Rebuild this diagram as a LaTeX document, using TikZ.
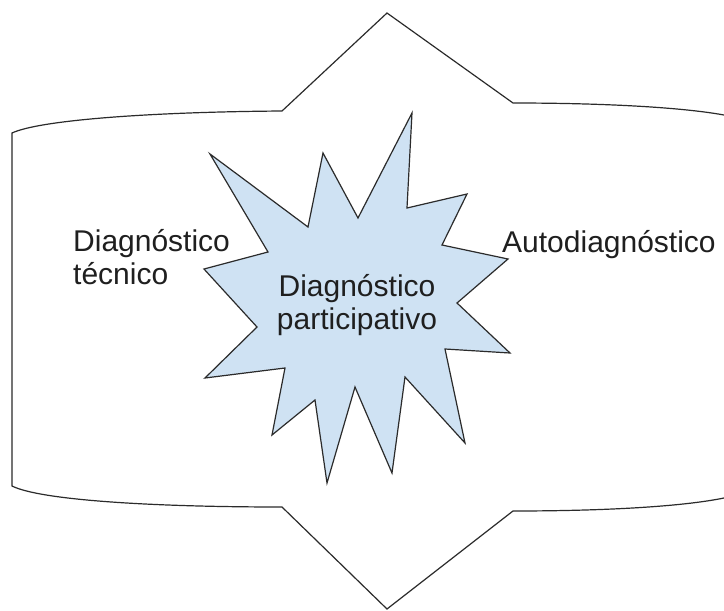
\documentclass[tikz,border=0pt]{standalone}
\usepackage{fontspec}
\setmainfont{Liberation Sans}
\definecolor{starfill}{HTML}{CFE2F3}
\definecolor{inkline}{HTML}{2B2B2B}
\definecolor{inktext}{HTML}{1F1F1F}
\tikzset{
  outline/.style={draw=inkline, line width=1.2pt, line join=miter},
  starshape/.style={draw=inkline, fill=starfill, line width=1.2pt, line join=miter},
  label/.style={inner sep=0pt, text=inktext, font=\fontsize{30}{33}\selectfont}
}
\begin{document}
\begin{tikzpicture}[x=1pt,y=-1pt]
\useasboundingbox (0,0) rectangle (724,611);
\fill[white] (0,0) rectangle (724,611);
\begin{scope}
\clip (0,0) rectangle (724,611);
\draw[outline] (12,133) .. controls (40,120) and (150,112) .. (282,111)
  -- (387,13) -- (513,103)
  .. controls (600,103) and (680,107) .. (724,115)
  -- (770,125) -- (770,490) -- (724,498)
  .. controls (680,507) and (600,511) .. (513,511)
  -- (387,609) -- (282,507)
  .. controls (150,507) and (40,500) .. (12,486) -- cycle;
\end{scope}
\draw[starshape] (210,154) -- (308,227) -- (323,153) -- (358,218) -- (412,113)
  -- (407,208) -- (467,194) -- (442,245) -- (508,259) -- (457,303)
  -- (510,353) -- (445,349) -- (465,443) -- (405,377) -- (392,473)
  -- (355,387) -- (327,483) -- (315,400) -- (272,435) -- (285,368)
  -- (205,378) -- (257,327) -- (204,269) -- (268,252) -- cycle;
\node[label, align=left, anchor=base west] (tecnico) at (73,284) {Diagnóstico\\técnico};
\node[label, anchor=base west] (auto) at (502,252) {Autodiagnóstico};
\node[label, align=center, anchor=base] (part) at (357,329) {Diagnóstico\\participativo};
\end{tikzpicture}
\end{document}
